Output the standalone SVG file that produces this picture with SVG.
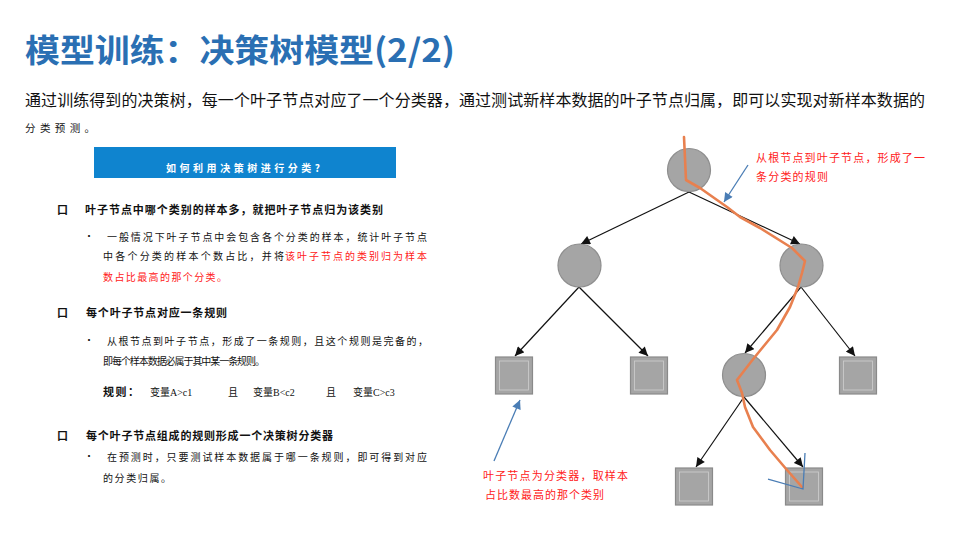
<svg xmlns="http://www.w3.org/2000/svg" width="960" height="539" viewBox="0 0 960 539">
<defs>
<style>
.cjk{font-family:"Noto Sans CJK SC","Noto Sans",sans-serif;}
.title{font-size:32px;font-weight:bold;fill:#2a6fb3;}
.sub{font-size:16px;fill:#111;}
.hdr{font-size:11px;font-weight:bold;fill:#111;}
.body{font-size:10px;fill:#111;}
.red{fill:#ff2020;}
.note{font-size:11px;fill:#ff2020;}
.edge{stroke:#111;stroke-width:1.2;fill:none;marker-end:url(#ah);}
.circ{fill:#a5a5a5;stroke:#8e8e8e;stroke-width:1.2;}
.sq{fill:#a5a5a5;stroke:#8a8a8a;stroke-width:1.2;}
.sqin{fill:none;stroke:#cfcfcf;stroke-width:0.8;}
.blue{stroke:#4a7db5;stroke-width:1.3;fill:none;}
</style>
<marker id="ah" viewBox="0 0 10 10" refX="10" refY="5" markerWidth="10" markerHeight="9" markerUnits="userSpaceOnUse" orient="auto">
<path d="M0,0 L10,5 L0,10 Z" fill="#111"/>
</marker>
<marker id="bh" viewBox="0 0 10 10" refX="10" refY="5" markerWidth="10" markerHeight="9" markerUnits="userSpaceOnUse" orient="auto">
<path d="M0,0 L10,5 L0,10 Z" fill="#4a7db5"/>
</marker>
</defs>
<rect width="960" height="539" fill="#fff"/>

<g id="title" class="cjk">
<text class="title" x="25" y="62" textLength="430" lengthAdjust="spacingAndGlyphs">模型训练：决策树模型(2/2)</text>
<text class="sub" x="25" y="106" textLength="900" lengthAdjust="spacing">通过训练得到的决策树，每一个叶子节点对应了一个分类器，通过测试新样本数据的叶子节点归属，即可以实现对新样本数据的</text>
<text x="25" y="132" font-size="10.5" fill="#111" textLength="70" lengthAdjust="spacing">分类预测。</text>
</g>

<g id="question">
<rect x="94" y="147" width="302" height="31" fill="#0f84cf"/>
<text class="cjk" x="166" y="172" font-size="10" font-weight="bold" fill="#fff" textLength="154" lengthAdjust="spacing">如何利用决策树进行分类?</text>
</g>

<g id="point1" class="cjk">
<text class="hdr" x="57" y="214">口</text>
<text class="hdr" x="85" y="214" textLength="298" lengthAdjust="spacing">叶子节点中哪个类别的样本多，就把叶子节点归为该类别</text>
<text class="body" x="84" y="240">·</text>
<text class="body" x="107" y="241" textLength="320" lengthAdjust="spacing">一般情况下叶子节点中会包含各个分类的样本，统计叶子节点</text>
<text class="body" x="103" y="260" textLength="181" lengthAdjust="spacing">中各个分类的样本个数占比，并将</text>
<text class="body red" x="285" y="260" textLength="142" lengthAdjust="spacing">该叶子节点的类别归为样本</text>
<text class="body red" x="103" y="281" textLength="124" lengthAdjust="spacing">数占比最高的那个分类。</text>
</g>

<g id="point2" class="cjk">
<text class="hdr" x="57" y="317">口</text>
<text class="hdr" x="86" y="317" textLength="141" lengthAdjust="spacing">每个叶子节点对应一条规则</text>
<text class="body" x="84" y="344">·</text>
<text class="body" x="107" y="345" textLength="321" lengthAdjust="spacing">从根节点到叶子节点，形成了一条规则，且这个规则是完备的，</text>
<text class="body" x="103" y="365" font-size="9" textLength="162" lengthAdjust="spacing">即每个样本数据必属于其中某一条规则。</text>
<text class="hdr" x="103" y="396" textLength="36" lengthAdjust="spacing">规则：</text>
<text class="body" x="150" y="396">变量<tspan font-family="Liberation Serif,serif" font-size="10">A&gt;c1</tspan></text>
<text class="body" x="228" y="396">且</text>
<text class="body" x="253" y="396">变量<tspan font-family="Liberation Serif,serif" font-size="10">B&lt;c2</tspan></text>
<text class="body" x="326" y="396">且</text>
<text class="body" x="353" y="396">变量<tspan font-family="Liberation Serif,serif" font-size="10">C&gt;c3</tspan></text>
</g>

<g id="point3" class="cjk">
<text class="hdr" x="57" y="440">口</text>
<text class="hdr" x="86" y="440" textLength="247" lengthAdjust="spacing">每个叶子节点组成的规则形成一个决策树分类器</text>
<text class="body" x="84" y="460">·</text>
<text class="body" x="107" y="461" textLength="320" lengthAdjust="spacing">在预测时，只要测试样本数据属于哪一条规则，即可得到对应</text>
<text class="body" x="103" y="482" textLength="68" lengthAdjust="spacing">的分类归属。</text>
</g>

<g id="connectors">
<line class="edge" x1="689" y1="192" x2="581" y2="244"/>
<line class="edge" x1="689" y1="192" x2="800" y2="244"/>
<line class="edge" x1="579" y1="287" x2="515" y2="356"/>
<line class="edge" x1="579" y1="287" x2="648" y2="356"/>
<line class="edge" x1="801" y1="287" x2="745" y2="353"/>
<line class="edge" x1="801" y1="287" x2="855" y2="356"/>
<line class="edge" x1="744" y1="397" x2="696" y2="467"/>
<line class="edge" x1="744" y1="397" x2="803" y2="467"/>
</g>

<g id="root"><circle class="circ" cx="689" cy="170" r="21.5"/></g>
<g id="n-left"><circle class="circ" cx="579.5" cy="265.5" r="21.5"/></g>
<g id="n-right"><circle class="circ" cx="801.5" cy="265.5" r="21.5"/></g>
<g id="n-mid"><circle class="circ" cx="744" cy="375" r="21.5"/></g>
<g id="leaf1"><rect class="sq" x="495.5" y="357" width="37" height="37"/><rect class="sqin" x="499.5" y="361" width="29" height="29"/></g>
<g id="leaf2"><rect class="sq" x="630.5" y="357" width="37" height="37"/><rect class="sqin" x="634.5" y="361" width="29" height="29"/></g>
<g id="leaf3"><rect class="sq" x="839.5" y="357" width="37" height="37"/><rect class="sqin" x="843.5" y="361" width="29" height="29"/></g>
<g id="leaf4"><rect class="sq" x="675.5" y="468" width="37" height="37"/><rect class="sqin" x="679.5" y="472" width="29" height="29"/></g>
<g id="leaf5"><rect class="sq" x="785.5" y="468" width="37" height="37"/><rect class="sqin" x="789.5" y="472" width="29" height="29"/></g>

<g id="path-highlight">
<path d="M684,137 L686,180 L700,188 L727,207 L740,217 L760,228 L792,248 L805,261 L802,273 L798,287 L790,307 L777,330 L763,347 L754,358 L747,367 L737,380 L742,393 L745,407 L753,427 L770,450 L787,470 L802,487" fill="none" stroke="#e8804f" stroke-width="2.6" stroke-linejoin="round" stroke-linecap="round"/>
</g>

<g id="annotations">
<line class="blue" x1="748" y1="165" x2="724" y2="202" marker-end="url(#bh)"/>
<line class="blue" x1="494" y1="461" x2="520" y2="400" marker-end="url(#bh)"/>
<polyline class="blue" points="805,453 803,489 768,479"/>
<text class="cjk note" x="756" y="162" textLength="169" lengthAdjust="spacing">从根节点到叶子节点，形成了一</text>
<text class="cjk note" x="756" y="181" textLength="72" lengthAdjust="spacing">条分类的规则</text>
<text class="cjk note" x="483" y="480" textLength="145" lengthAdjust="spacing">叶子节点为分类器，取样本</text>
<text class="cjk note" x="485" y="499" textLength="119" lengthAdjust="spacing">占比数最高的那个类别</text>
</g>
</svg>
